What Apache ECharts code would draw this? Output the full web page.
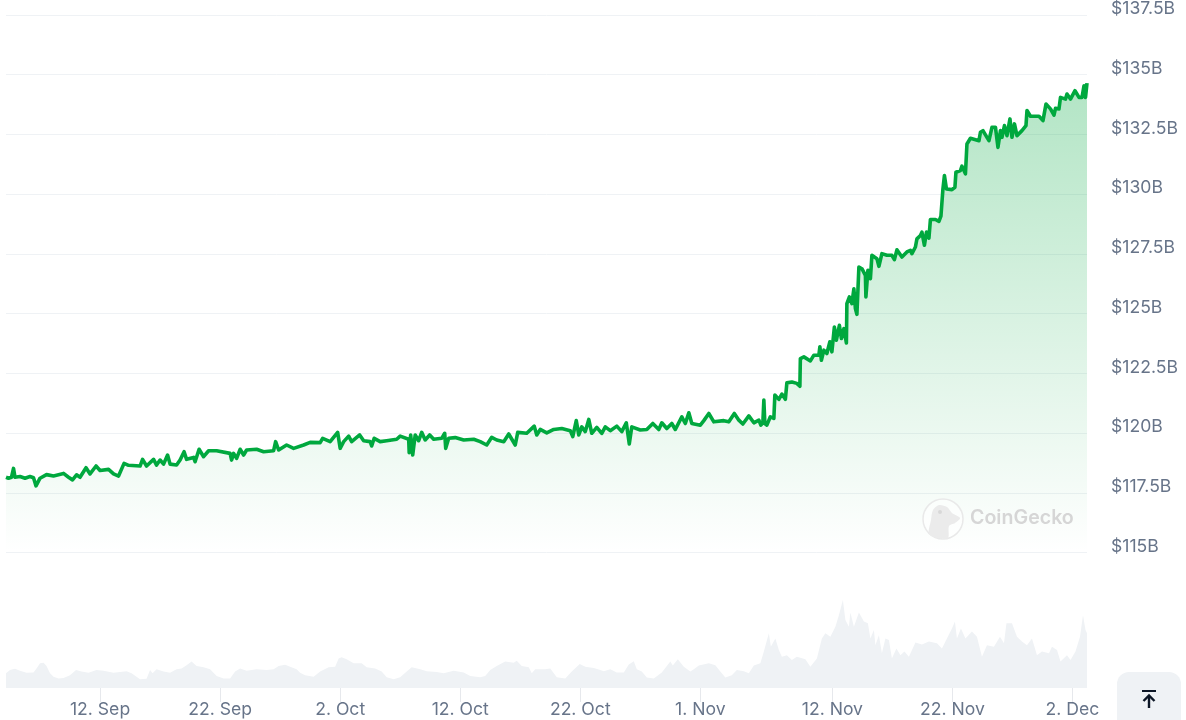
<!DOCTYPE html>
<html>
<head>
    <meta charset="utf-8">
    <title>Tether market cap</title>
    <script src="https://cdn.jsdelivr.net/npm/echarts@6/dist/echarts.min.js"></script>
    <style>
        html, body { margin: 0; padding: 0; background: #fff; overflow: hidden; }
    </style>
</head>
<body>
    <div id="main" style="width: 1186px;height:720px;"></div>
    <script type="text/javascript">
        // x axis runs in hours since the first sample (4 Sep 04:00 UTC)
        var startTime = Date.UTC(2024, 8, 4, 4);
        var endHour = 2161;

        var priceHours = [
            0,5,11,15,18,28,38,48,55,60,68,81,95,115,125,133,141,148,160,168,180,188,205,215,225,236,245,268,273,281,
            295,301,308,315,323,328,341,348,356,361,375,378,386,395,405,421,448,451,455,461,468,475,481,501,515,535,539,545,561,575,
            595,608,628,633,648,663,668,675,685,691,707,715,728,731,736,748,761,781,788,805,806,809,813,818,825,831,838,847,855,871,
            877,879,885,898,915,935,948,961,971,981,995,1005,1018,1023,1041,1056,1061,1068,1081,1095,1111,1128,1133,1140,1145,1151,1158,1165,1171,1181,
            1191,1198,1208,1221,1231,1240,1246,1251,1268,1281,1293,1305,1311,1321,1331,1338,1351,1358,1365,1371,1388,1395,1405,1415,1435,1445,1456,1465,1473,1485,
            1495,1505,1509,1513,1515,1517,1521,1528,1535,1537,1545,1551,1558,1561,1571,1581,1587,1588,1595,1608,1615,1625,1627,1630,1635,1641,1647,1651,1656,1660,
            1666,1670,1675,1680,1681,1686,1691,1695,1698,1701,1705,1711,1718,1719,1723,1728,1731,1741,1745,1751,1761,1771,1776,1781,1791,1801,1808,1811,1818,1821,
            1828,1831,1836,1840,1845,1848,1858,1865,1869,1873,1876,1880,1891,1897,1899,1908,1911,1918,1921,1928,1945,1948,1953,1961,1965,1971,1978,1983,1988,1991,
            1996,2001,2007,2011,2016,2021,2031,2039,2041,2048,2065,2073,2079,2088,2095,2098,2105,2108,2118,2121,2128,2137,2145,2151,2155,2158,2161
        ];
        // market cap, $B
        var priceValues = [
            118.15,118.11,118.15,118.52,118.15,118.18,118.11,118.18,118.13,117.79,118.11,118.26,118.20,118.31,118.15,118.04,118.25,118.15,118.55,118.29,118.62,118.43,118.48,118.29,118.20,118.73,118.65,118.62,118.90,118.62,
            118.90,118.66,118.87,118.70,119.08,118.70,118.66,118.87,119.22,118.90,118.98,118.80,119.32,119.01,119.26,119.26,119.15,118.87,119.15,118.94,119.32,119.08,119.29,119.32,119.22,119.26,119.64,119.29,119.50,119.36,
            119.50,119.61,119.60,119.78,119.64,120.03,119.36,119.64,119.87,119.64,119.92,119.68,119.64,119.46,119.78,119.64,119.68,119.74,119.87,119.74,119.18,119.92,119.08,119.92,119.68,120.03,119.71,119.92,119.74,119.78,
            119.99,119.36,119.78,119.81,119.71,119.74,119.64,119.50,119.82,119.71,119.64,119.96,119.50,120.03,119.99,120.29,119.92,120.15,120.01,120.15,120.19,120.10,119.85,120.52,119.92,120.26,120.06,120.57,119.99,120.24,
            119.99,120.26,120.10,120.29,120.06,120.43,119.54,120.26,120.13,120.15,120.40,120.15,120.43,120.19,120.40,120.15,120.68,120.40,120.85,120.40,120.33,120.52,120.82,120.47,120.52,120.47,120.82,120.54,120.38,120.72,
            120.43,120.54,120.33,120.43,121.38,120.40,120.33,120.68,120.61,121.59,121.41,121.63,121.41,122.10,122.14,122.08,121.96,123.12,123.19,123.02,123.26,123.26,123.61,123.05,123.47,123.33,123.82,123.40,124.44,123.89,
            124.51,123.96,124.37,123.77,125.42,125.70,125.42,126.04,125.21,124.97,126.95,126.88,126.60,125.70,126.81,126.46,127.44,127.30,126.98,127.51,127.44,127.44,127.26,127.67,127.37,127.58,127.65,127.51,127.79,128.13,
            128.27,128.41,127.86,128.41,128.16,128.94,128.94,128.86,129.08,130.22,130.78,130.22,130.19,130.29,130.92,130.99,131.17,130.85,132.10,132.34,132.24,132.59,132.66,132.38,132.24,132.80,132.80,131.96,132.66,132.38,
            132.87,132.45,133.15,132.38,132.94,132.45,132.66,132.87,133.50,133.26,133.26,133.08,133.77,133.57,133.31,133.59,133.57,134.05,133.98,134.19,133.98,134.33,134.05,134.05,134.54,134.05,134.65
        ];

        var volumeHours = [
            0,8,18,28,41,55,61,68,75,81,88,95,105,115,128,140,151,165,181,195,215,241,251,268,281,288,293,301,315,328,
            341,351,361,371,381,395,408,421,435,448,458,468,481,501,521,535,545,558,568,581,588,598,615,628,645,658,665,671,681,695,
            711,721,738,751,761,775,788,801,811,828,841,861,875,895,915,928,948,958,968,981,998,1015,1021,1031,1045,1051,1058,1078,1088,1101,
            1118,1131,1147,1158,1175,1188,1195,1208,1221,1235,1245,1255,1261,1271,1281,1295,1311,1328,1333,1343,1355,1368,1375,1385,1405,1418,1428,1438,1451,1461,
            1475,1485,1495,1508,1515,1525,1529,1538,1545,1551,1561,1571,1581,1598,1608,1621,1631,1638,1648,1658,1665,1673,1678,1685,1688,1695,1705,1715,1723,1728,
            1735,1738,1745,1751,1758,1765,1771,1780,1788,1796,1805,1818,1831,1845,1861,1871,1881,1891,1897,1901,1909,1918,1931,1941,1951,1961,1975,1987,1995,2000,
            2011,2021,2031,2041,2051,2061,2071,2085,2091,2101,2108,2121,2128,2138,2147,2153,2158,2161
        ];
        // traded volume, $B
        var volumeValues = [
            37,45,48,43,38,39,49,62,63,55,37,28,24,25,32,45,41,38,45,43,38,42,37,22,23,45,37,47,41,38,
            47,49,57,66,55,52,47,30,24,24,41,49,43,47,45,47,55,58,53,47,38,32,28,41,52,53,74,77,72,62,
            62,52,49,41,27,22,27,41,52,47,42,40,37,43,39,30,27,30,45,55,66,63,68,55,52,37,47,47,49,27,
            24,41,60,53,50,45,42,47,39,39,59,67,47,41,26,24,39,66,56,72,53,41,47,56,62,57,41,26,32,45,
            42,37,56,62,91,137,103,124,95,78,82,70,78,72,53,74,124,137,128,153,182,220,170,153,189,153,189,166,162,124,
            145,107,132,87,124,120,74,99,82,91,78,114,109,116,112,99,124,149,166,124,149,124,141,128,78,107,103,128,112,162,
            162,128,116,107,124,82,91,87,103,95,66,82,70,91,128,182,145,137
        ];

        var tickDates = [
            Date.UTC(2024, 8, 12), Date.UTC(2024, 8, 22), Date.UTC(2024, 9, 2), Date.UTC(2024, 9, 12), Date.UTC(2024, 9, 22),
            Date.UTC(2024, 10, 1), Date.UTC(2024, 10, 12), Date.UTC(2024, 10, 22), Date.UTC(2024, 11, 2)
        ];
        var tickLabels = ['12. Sep', '22. Sep', '2. Oct', '12. Oct', '22. Oct', '1. Nov', '12. Nov', '22. Nov', '2. Dec'];

        var tickHours = tickDates.map(function (t) {
            return (t - startTime) / 3600000;
        });

        function toPairs(hours, values) {
            return hours.map(function (h, i) {
                return [h, values[i]];
            });
        }

        var fontName = 'Inter';

        var myChart = echarts.init(document.getElementById('main'), null, {renderer: 'canvas'});

        var option = {
            animation: false,
            backgroundColor: '#fff',
            grid: [
                {left: 6, right: 99, top: 15, height: 537.5},
                {left: 6, right: 99, top: 588, height: 100}
            ],
            xAxis: [{
                type: 'value',
                gridIndex: 0,
                min: 0,
                max: endHour,
                axisLine: {show: false},
                axisTick: {show: false},
                axisLabel: {show: false},
                splitLine: {show: false}
            }, {
                type: 'value',
                gridIndex: 1,
                min: 0,
                max: endHour,
                axisLine: {show: false},
                axisTick: {
                    show: true,
                    length: 14,
                    customValues: tickHours,
                    lineStyle: {color: '#e6e8ec', width: 1}
                },
                axisLabel: {
                    show: true,
                    customValues: tickHours,
                    margin: 13,
                    color: '#677489',
                    fontFamily: fontName,
                    fontSize: 17.6,
                    hideOverlap: false,
                    formatter: function (value) {
                        return tickLabels[tickHours.indexOf(value)];
                    }
                },
                splitLine: {show: false}
            }],
            yAxis: [{
                type: 'value',
                gridIndex: 0,
                position: 'right',
                min: 115,
                max: 137.5,
                interval: 2.5,
                axisLine: {show: false},
                axisTick: {show: false},
                axisLabel: {
                    margin: 24,
                    color: '#677489',
                    fontFamily: fontName,
                    fontSize: 17.6,
                    align: 'left',
                    verticalAlign: 'bottom',
                    lineHeight: 12,
                    formatter: function (v) { return '$' + v + 'B'; }
                },
                splitLine: {lineStyle: {color: '#eff2f5', width: 1}}
            }, {
                type: 'value',
                gridIndex: 1,
                min: 0,
                max: 250,
                show: false
            }],
            series: [{
                type: 'line',
                name: 'Volume',
                xAxisIndex: 1,
                yAxisIndex: 1,
                data: toPairs(volumeHours, volumeValues),
                showSymbol: false,
                silent: true,
                lineStyle: {width: 0},
                areaStyle: {color: '#eff2f5', opacity: 1}
            }, {
                type: 'line',
                name: 'Market Cap',
                xAxisIndex: 0,
                yAxisIndex: 0,
                data: toPairs(priceHours, priceValues),
                showSymbol: false,
                silent: true,
                lineStyle: {color: '#00a83e', width: 3.6, join: 'round'},
                areaStyle: {
                    opacity: 1,
                    color: new echarts.graphic.LinearGradient(0, 0, 0, 1, [
                        {offset: 0, color: 'rgba(0,168,62,0.3)'},
                        {offset: 1, color: 'rgba(0,168,62,0)'}
                    ])
                }
            }],
            graphic: [
                // CoinGecko watermark
                {type: 'circle', z: 10, shape: {cx: 943, cy: 519, r: 20}, style: {fill: 'rgba(255,255,255,0.5)', stroke: '#e9e9e9', lineWidth: 1.5}},
                {type: 'polygon', z: 11, shape: {
                    points: [[929, 534], [931, 520], [933, 510], [939, 505], [947, 507], [952, 513], [960, 518], [955, 523], [949, 526], [948, 538], [938, 538]],
                    smooth: 0.3
                }, style: {fill: '#ebebeb'}},
                {type: 'circle', z: 12, shape: {cx: 940, cy: 512, r: 2}, style: {fill: '#d8d8d8'}},
                {type: 'text', z: 11, style: {x: 970, y: 518, text: 'CoinGecko', fill: '#d6d6d6', font: '600 19.6px Inter', verticalAlign: 'middle'}},
                // back-to-top button
                {type: 'rect', z: 10, shape: {x: 1117, y: 672, width: 64, height: 60, r: 12}, style: {fill: '#eff2f5'}},
                {type: 'line', z: 11, shape: {x1: 1142, y1: 691, x2: 1156, y2: 691}, style: {stroke: '#0d1726', lineWidth: 2}},
                {type: 'line', z: 11, shape: {x1: 1149, y1: 696, x2: 1149, y2: 708}, style: {stroke: '#0d1726', lineWidth: 2.4}},
                {type: 'polyline', z: 11, shape: {points: [[1143.5, 701], [1149, 695.5], [1154.5, 701]]}, style: {stroke: '#0d1726', lineWidth: 2.4, fill: 'none'}}
            ]
        };
        myChart.setOption(option);
    </script>
</body>
</html>
